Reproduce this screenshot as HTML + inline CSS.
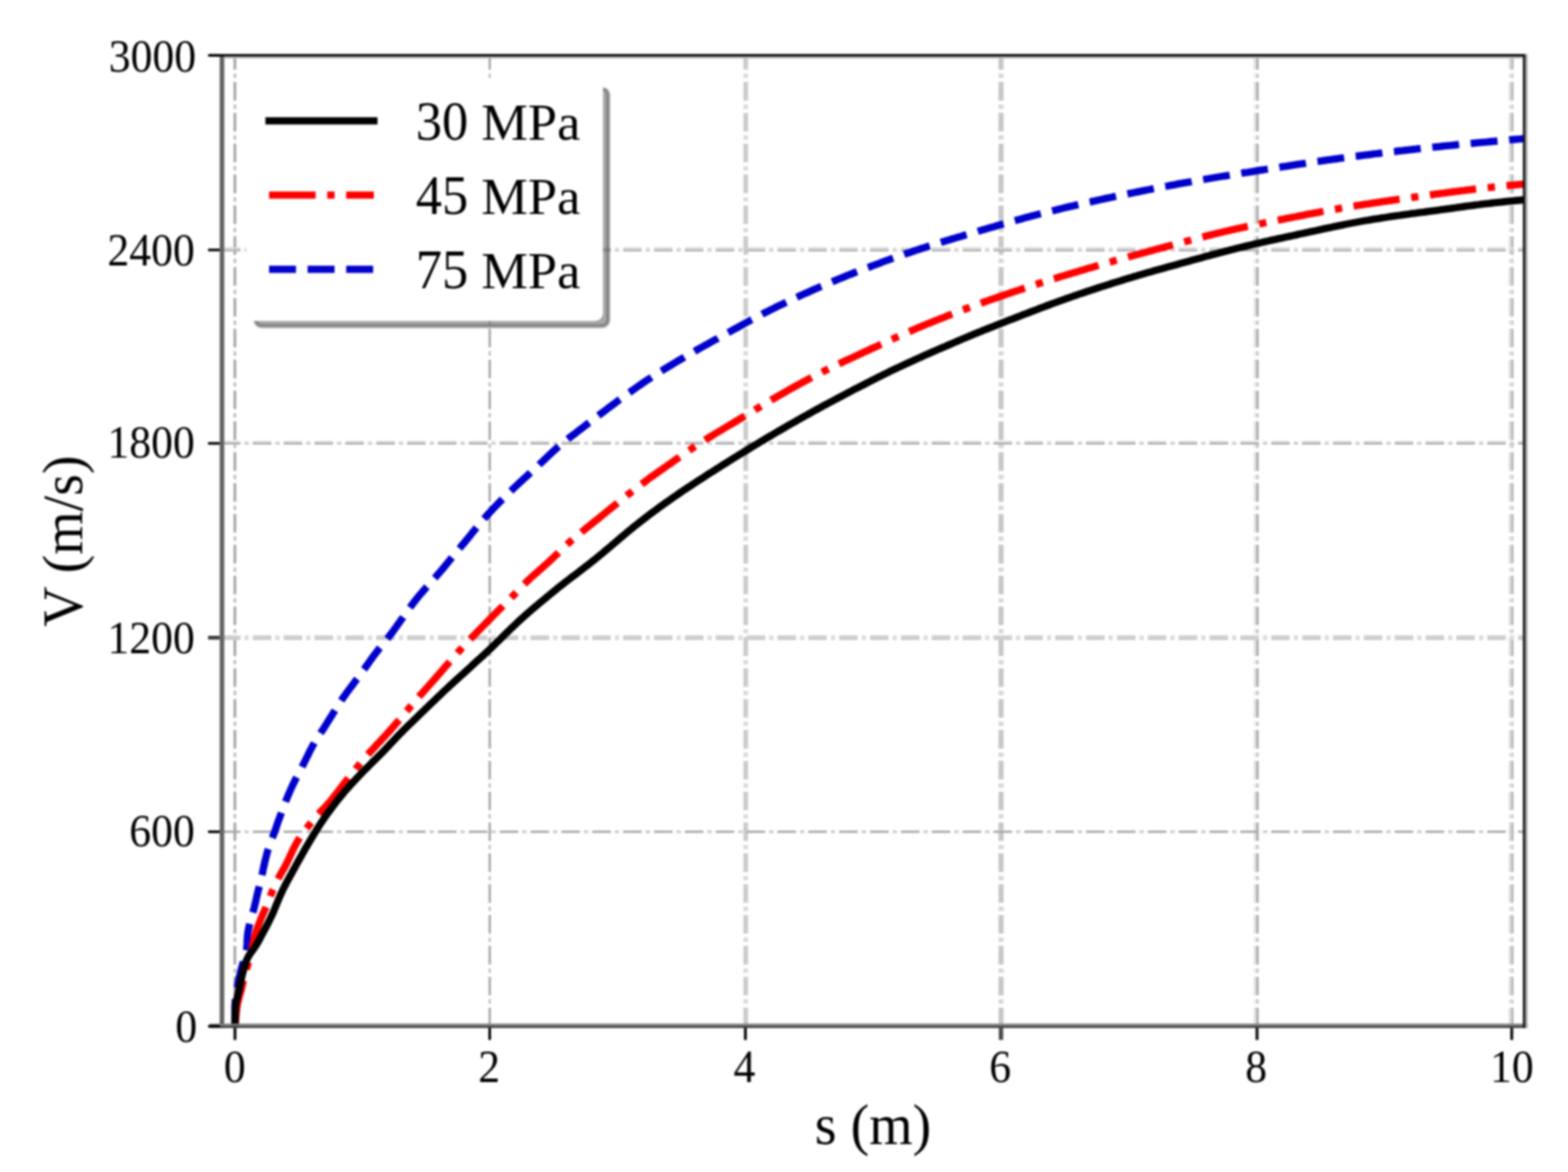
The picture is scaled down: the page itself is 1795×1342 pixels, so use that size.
<!DOCTYPE html>
<html><head><meta charset="utf-8"><title>V vs s</title>
<style>html,body{margin:0;padding:0;background:#fff;overflow:hidden;} svg{display:block;filter:blur(0.8px);}</style></head>
<body>
<svg xmlns="http://www.w3.org/2000/svg" width="1795" height="1342" viewBox="0 0 1795 1342">
<rect width="1795" height="1342" fill="#ffffff"/>
<defs><clipPath id="ax"><rect x="254.0" y="63.3" width="1491.0" height="1111.8"/></clipPath></defs>
<g fill="none" clip-path="url(#ax)"><line x1="268.90" y1="1175.1" x2="268.90" y2="63.3" stroke="#a2a2a2" stroke-width="3.00" stroke-dasharray="21.33,14.00"/><line x1="268.90" y1="1175.1" x2="268.90" y2="63.3" stroke="#bdbdbd" stroke-width="3.00" stroke-dasharray="0,25.83,5.00,4.50"/><line x1="560.65" y1="1175.1" x2="560.65" y2="63.3" stroke="#a8a8a8" stroke-width="2.70" stroke-dasharray="21.33,14.00"/><line x1="560.65" y1="1175.1" x2="560.65" y2="63.3" stroke="#c2c2c2" stroke-width="2.70" stroke-dasharray="0,25.83,5.00,4.50"/><line x1="853.70" y1="1175.1" x2="853.70" y2="63.3" stroke="#cbcbcb" stroke-width="5.40" stroke-dasharray="21.33,14.00"/><line x1="853.70" y1="1175.1" x2="853.70" y2="63.3" stroke="#dadada" stroke-width="5.40" stroke-dasharray="0,25.83,5.00,4.50"/><line x1="1145.95" y1="1175.1" x2="1145.95" y2="63.3" stroke="#c8c8c8" stroke-width="5.90" stroke-dasharray="21.33,14.00"/><line x1="1145.95" y1="1175.1" x2="1145.95" y2="63.3" stroke="#d8d8d8" stroke-width="5.90" stroke-dasharray="0,25.83,5.00,4.50"/><line x1="1436.50" y1="1175.1" x2="1436.50" y2="63.3" stroke="#e4e4e4" stroke-width="3.00" stroke-dasharray="21.33,14.00"/><line x1="1436.50" y1="1175.1" x2="1436.50" y2="63.3" stroke="#ececec" stroke-width="3.00" stroke-dasharray="0,25.83,5.00,4.50"/><line x1="1439.50" y1="1175.1" x2="1439.50" y2="63.3" stroke="#b0b0b0" stroke-width="3.00" stroke-dasharray="21.33,14.00"/><line x1="1439.50" y1="1175.1" x2="1439.50" y2="63.3" stroke="#c7c7c7" stroke-width="3.00" stroke-dasharray="0,25.83,5.00,4.50"/><line x1="1728.50" y1="1175.1" x2="1728.50" y2="63.3" stroke="#e0e0e0" stroke-width="3.00" stroke-dasharray="21.33,14.00"/><line x1="1728.50" y1="1175.1" x2="1728.50" y2="63.3" stroke="#e9e9e9" stroke-width="3.00" stroke-dasharray="0,25.83,5.00,4.50"/><line x1="1731.30" y1="1175.1" x2="1731.30" y2="63.3" stroke="#b4b4b4" stroke-width="2.60" stroke-dasharray="21.33,14.00"/><line x1="1731.30" y1="1175.1" x2="1731.30" y2="63.3" stroke="#cacaca" stroke-width="2.60" stroke-dasharray="0,25.83,5.00,4.50"/><line x1="254.0" y1="952.35" x2="1745.0" y2="952.35" stroke="#acacac" stroke-width="2.90" stroke-dasharray="21.33,14.00"/><line x1="254.0" y1="952.35" x2="1745.0" y2="952.35" stroke="#c4c4c4" stroke-width="2.90" stroke-dasharray="0,25.83,5.00,4.50"/><line x1="254.0" y1="730.20" x2="1745.0" y2="730.20" stroke="#cecece" stroke-width="5.40" stroke-dasharray="21.33,14.00"/><line x1="254.0" y1="730.20" x2="1745.0" y2="730.20" stroke="#dcdcdc" stroke-width="5.40" stroke-dasharray="0,25.83,5.00,4.50"/><line x1="254.0" y1="505.30" x2="1745.0" y2="505.30" stroke="#ececec" stroke-width="2.20" stroke-dasharray="21.33,14.00"/><line x1="254.0" y1="505.30" x2="1745.0" y2="505.30" stroke="#f1f1f1" stroke-width="2.20" stroke-dasharray="0,25.83,5.00,4.50"/><line x1="254.0" y1="507.75" x2="1745.0" y2="507.75" stroke="#aaaaaa" stroke-width="2.70" stroke-dasharray="21.33,14.00"/><line x1="254.0" y1="507.75" x2="1745.0" y2="507.75" stroke="#c3c3c3" stroke-width="2.70" stroke-dasharray="0,25.83,5.00,4.50"/><line x1="254.0" y1="284.20" x2="1745.0" y2="284.20" stroke="#dcdcdc" stroke-width="2.40" stroke-dasharray="21.33,14.00"/><line x1="254.0" y1="284.20" x2="1745.0" y2="284.20" stroke="#e6e6e6" stroke-width="2.40" stroke-dasharray="0,25.83,5.00,4.50"/><line x1="254.0" y1="286.75" x2="1745.0" y2="286.75" stroke="#b4b4b4" stroke-width="2.70" stroke-dasharray="21.33,14.00"/><line x1="254.0" y1="286.75" x2="1745.0" y2="286.75" stroke="#cacaca" stroke-width="2.70" stroke-dasharray="0,25.83,5.00,4.50"/></g>
<g clip-path="url(#ax)"><path d="M269.0,1175.1 L269.0,1172.1 L268.9,1169.1 L268.9,1166.1 L268.9,1163.1 L268.9,1160.1 L268.9,1157.1 L268.9,1154.1 L269.0,1151.1 L269.2,1148.1 L269.4,1145.1 L269.7,1142.2 L270.2,1139.2 L270.7,1136.2 L271.2,1133.3 L271.8,1130.3 L272.3,1127.4 L272.9,1124.4 L273.4,1121.5 L274.1,1118.6 L274.8,1115.6 L275.5,1112.7 L276.2,1109.8 L277.0,1106.9 L277.8,1104.0 L278.7,1101.2 L279.5,1098.3 L280.4,1095.4 L281.2,1092.5 L281.9,1089.6 L282.4,1086.7 L282.6,1083.7 L282.8,1080.7 L282.9,1077.7 L283.1,1074.8 L283.3,1071.8 L283.6,1068.8 L284.1,1065.8 L284.7,1062.9 L285.3,1060.0 L286.0,1057.1 L286.8,1054.2 L287.7,1051.3 L288.5,1048.4 L289.3,1045.5 L290.1,1042.7 L290.9,1039.7 L291.6,1036.8 L292.3,1033.9 L293.0,1031.0 L293.6,1028.1 L294.3,1025.1 L295.0,1022.2 L295.7,1019.3 L296.4,1016.4 L297.1,1013.5 L297.8,1010.6 L298.5,1007.6 L299.2,1004.7 L299.9,1001.8 L300.6,998.9 L301.2,996.0 L301.8,993.0 L302.5,990.1 L303.1,987.2 L303.8,984.2 L304.6,981.3 L305.3,978.4 L306.1,975.5 L306.9,972.7 L307.9,969.8 L308.9,967.0 L310.0,964.2 L311.0,961.4 L312.1,958.6 L313.2,955.8 L314.2,953.0 L315.2,950.2 L316.2,947.3 L317.1,944.5 L318.1,941.7 L319.1,938.8 L320.2,936.0 L321.2,933.2 L322.2,930.4 L323.2,927.6 L324.3,924.8 L325.4,922.0 L326.4,919.2 L327.5,916.4 L328.7,913.6 L329.8,910.8 L331.0,908.1 L332.2,905.3 L333.4,902.6 L334.7,899.8 L336.0,897.1 L337.3,894.4 L338.6,891.8 L340.0,889.1 L341.4,886.4 L342.8,883.8 L344.2,881.1 L345.5,878.5 L346.9,875.8 L348.3,873.1 L349.6,870.5 L350.9,867.8 L352.3,865.1 L353.6,862.4 L354.9,859.7 L356.3,857.1 L357.7,854.4 L359.2,851.9 L360.7,849.3 L362.3,846.7 L363.9,844.2 L365.5,841.7 L367.1,839.2 L368.8,836.7 L370.4,834.2 L372.0,831.7 L373.6,829.1 L375.2,826.6 L376.8,824.1 L378.4,821.5 L380.0,819.0 L381.5,816.4 L383.1,813.9 L384.7,811.3 L386.3,808.8 L387.9,806.3 L389.6,803.8 L391.2,801.3 L392.9,798.8 L394.6,796.4 L396.4,794.0 L398.1,791.5 L399.9,789.2 L401.7,786.8 L403.5,784.4 L405.3,782.0 L407.1,779.6 L408.9,777.3 L410.7,774.9 L412.4,772.5 L414.2,770.0 L415.9,767.6 L417.7,765.2 L419.4,762.7 L421.1,760.3 L422.8,757.9 L424.6,755.4 L426.3,753.0 L428.1,750.6 L429.9,748.2 L431.7,745.9 L433.5,743.5 L435.4,741.2 L437.3,738.9 L439.2,736.5 L441.0,734.2 L442.9,731.9 L444.7,729.6 L446.6,727.2 L448.4,724.9 L450.2,722.5 L451.9,720.1 L453.7,717.7 L455.4,715.2 L457.1,712.8 L458.8,710.3 L460.6,707.9 L462.3,705.4 L464.0,703.0 L465.7,700.5 L467.5,698.1 L469.3,695.7 L471.0,693.3 L472.9,690.9 L474.7,688.5 L476.6,686.2 L478.4,683.8 L480.3,681.5 L482.3,679.3 L484.2,677.0 L486.2,674.7 L488.2,672.5 L490.2,670.3 L492.2,668.0 L494.2,665.8 L496.2,663.6 L498.2,661.4 L500.1,659.1 L502.1,656.8 L504.0,654.6 L506.0,652.3 L507.9,650.0 L509.8,647.7 L511.7,645.4 L513.6,643.0 L515.5,640.7 L517.4,638.4 L519.3,636.1 L521.2,633.8 L523.1,631.5 L525.0,629.2 L526.9,626.9 L528.8,624.6 L530.8,622.3 L532.7,620.0 L534.6,617.7 L536.5,615.3 L538.4,613.0 L540.2,610.7 L542.1,608.4 L544.0,606.1 L545.9,603.7 L547.8,601.4 L549.8,599.1 L551.7,596.8 L553.6,594.6 L555.6,592.3 L557.6,590.1 L559.6,587.9 L561.6,585.7 L563.7,583.5 L565.7,581.3 L567.8,579.1 L569.9,577.0 L572.0,574.8 L574.1,572.7 L576.2,570.6 L578.3,568.4 L580.5,566.3 L582.6,564.2 L584.8,562.2 L587.0,560.1 L589.1,558.0 L591.3,556.0 L593.5,553.9 L595.7,551.9 L597.9,549.9 L600.1,547.8 L602.3,545.8 L604.5,543.8 L606.8,541.7 L609.0,539.7 L611.2,537.7 L613.4,535.6 L615.6,533.6 L617.7,531.5 L619.9,529.5 L622.1,527.4 L624.3,525.4 L626.4,523.3 L628.6,521.2 L630.8,519.2 L633.0,517.1 L635.2,515.1 L637.4,513.1 L639.7,511.2 L641.9,509.2 L644.2,507.3 L646.5,505.4 L648.9,503.6 L651.2,501.7 L653.6,499.9 L656.0,498.1 L658.4,496.3 L660.7,494.5 L663.1,492.6 L665.5,490.8 L667.9,489.0 L670.3,487.2 L672.6,485.3 L675.0,483.5 L677.4,481.7 L679.8,479.9 L682.2,478.0 L684.5,476.2 L686.9,474.4 L689.3,472.6 L691.7,470.8 L694.1,469.0 L696.5,467.2 L698.9,465.4 L701.3,463.6 L703.7,461.8 L706.1,460.0 L708.5,458.2 L711.0,456.4 L713.4,454.7 L715.8,452.9 L718.2,451.1 L720.6,449.4 L723.1,447.6 L725.5,445.9 L728.0,444.1 L730.4,442.4 L732.9,440.7 L735.3,439.0 L737.8,437.3 L740.3,435.6 L742.8,434.0 L745.3,432.4 L747.8,430.7 L750.4,429.1 L752.9,427.5 L755.4,425.9 L758.0,424.3 L760.5,422.7 L763.1,421.2 L765.6,419.6 L768.2,418.1 L770.8,416.5 L773.3,415.0 L775.9,413.4 L778.5,411.9 L781.1,410.4 L783.6,408.9 L786.2,407.4 L788.8,405.9 L791.4,404.4 L794.0,402.9 L796.6,401.4 L799.2,399.9 L801.8,398.5 L804.4,397.0 L807.1,395.5 L809.7,394.1 L812.3,392.6 L814.9,391.2 L817.5,389.7 L820.1,388.3 L822.7,386.8 L825.3,385.4 L828.0,383.9 L830.6,382.5 L833.2,381.0 L835.8,379.6 L838.4,378.2 L841.0,376.7 L843.7,375.3 L846.3,373.8 L848.9,372.4 L851.5,371.0 L854.1,369.5 L856.8,368.1 L859.4,366.7 L862.0,365.3 L864.7,363.9 L867.3,362.5 L870.0,361.1 L872.6,359.7 L875.3,358.3 L877.9,357.0 L880.6,355.6 L883.3,354.3 L885.9,352.9 L888.6,351.6 L891.3,350.3 L894.0,349.0 L896.7,347.7 L899.4,346.4 L902.1,345.1 L904.8,343.8 L907.5,342.5 L910.2,341.3 L913.0,340.0 L915.7,338.8 L918.4,337.5 L921.1,336.3 L923.9,335.1 L926.6,333.9 L929.3,332.6 L932.1,331.4 L934.8,330.2 L937.6,329.0 L940.3,327.9 L943.1,326.7 L945.8,325.5 L948.6,324.3 L951.3,323.2 L954.1,322.0 L956.9,320.9 L959.6,319.7 L962.4,318.6 L965.2,317.5 L967.9,316.4 L970.7,315.2 L973.5,314.1 L976.3,313.0 L979.0,311.9 L981.8,310.8 L984.6,309.8 L987.4,308.7 L990.2,307.6 L993.0,306.5 L995.8,305.5 L998.6,304.4 L1001.4,303.4 L1004.2,302.3 L1007.0,301.3 L1009.8,300.2 L1012.6,299.2 L1015.4,298.2 L1018.2,297.2 L1021.0,296.2 L1023.8,295.2 L1026.6,294.2 L1029.5,293.2 L1032.3,292.2 L1035.1,291.2 L1038.0,290.2 L1040.8,289.3 L1043.6,288.3 L1046.5,287.3 L1049.3,286.4 L1052.1,285.5 L1055.0,284.5 L1057.8,283.6 L1060.7,282.7 L1063.5,281.8 L1066.4,280.9 L1069.3,280.0 L1072.1,279.1 L1075.0,278.2 L1077.8,277.3 L1080.7,276.4 L1083.6,275.5 L1086.4,274.7 L1089.3,273.8 L1092.2,272.9 L1095.1,272.1 L1097.9,271.2 L1100.8,270.4 L1103.7,269.5 L1106.6,268.7 L1109.4,267.8 L1112.3,267.0 L1115.2,266.1 L1118.1,265.3 L1120.9,264.4 L1123.8,263.6 L1126.7,262.7 L1129.6,261.9 L1132.4,261.0 L1135.3,260.2 L1138.2,259.4 L1141.1,258.5 L1144.0,257.7 L1146.8,256.9 L1149.7,256.1 L1152.6,255.2 L1155.5,254.4 L1158.4,253.6 L1161.3,252.8 L1164.1,252.0 L1167.0,251.2 L1169.9,250.4 L1172.8,249.6 L1175.7,248.8 L1178.6,248.1 L1181.5,247.3 L1184.4,246.5 L1187.3,245.8 L1190.2,245.0 L1193.1,244.3 L1196.0,243.6 L1198.9,242.8 L1201.8,242.1 L1204.7,241.4 L1207.6,240.7 L1210.6,239.9 L1213.5,239.2 L1216.4,238.5 L1219.3,237.8 L1222.2,237.1 L1225.1,236.4 L1228.1,235.8 L1231.0,235.1 L1233.9,234.4 L1236.8,233.7 L1239.7,233.1 L1242.7,232.4 L1245.6,231.7 L1248.5,231.1 L1251.5,230.4 L1254.4,229.8 L1257.3,229.1 L1260.2,228.5 L1263.2,227.8 L1266.1,227.2 L1269.0,226.6 L1272.0,226.0 L1274.9,225.3 L1277.8,224.7 L1280.8,224.1 L1283.7,223.5 L1286.6,222.9 L1289.6,222.3 L1292.5,221.7 L1295.5,221.1 L1298.4,220.5 L1301.3,219.9 L1304.3,219.3 L1307.2,218.7 L1310.2,218.1 L1313.1,217.5 L1316.0,217.0 L1319.0,216.4 L1321.9,215.8 L1324.9,215.2 L1327.8,214.7 L1330.8,214.1 L1333.7,213.5 L1336.7,213.0 L1339.6,212.4 L1342.6,211.8 L1345.5,211.3 L1348.4,210.7 L1351.4,210.2 L1354.3,209.7 L1357.3,209.1 L1360.2,208.6 L1363.2,208.1 L1366.2,207.5 L1369.1,207.0 L1372.1,206.5 L1375.0,206.0 L1378.0,205.5 L1380.9,205.0 L1383.9,204.5 L1386.8,204.0 L1389.8,203.5 L1392.7,203.0 L1395.7,202.5 L1398.7,202.0 L1401.6,201.5 L1404.6,201.1 L1407.5,200.6 L1410.5,200.1 L1413.5,199.6 L1416.4,199.2 L1419.4,198.7 L1422.3,198.2 L1425.3,197.7 L1428.2,197.3 L1431.2,196.8 L1434.2,196.3 L1437.1,195.9 L1440.1,195.4 L1443.0,194.9 L1446.0,194.5 L1448.9,194.0 L1451.9,193.5 L1454.8,193.1 L1457.8,192.6 L1460.8,192.1 L1463.7,191.7 L1466.7,191.2 L1469.6,190.7 L1472.6,190.3 L1475.5,189.8 L1478.5,189.3 L1481.4,188.9 L1484.4,188.4 L1487.4,188.0 L1490.3,187.5 L1493.3,187.1 L1496.2,186.6 L1499.2,186.2 L1502.2,185.8 L1505.1,185.3 L1508.1,184.9 L1511.1,184.5 L1514.0,184.0 L1517.0,183.6 L1520.0,183.2 L1522.9,182.8 L1525.9,182.4 L1528.9,182.0 L1531.8,181.6 L1534.8,181.2 L1537.8,180.8 L1540.7,180.4 L1543.7,180.0 L1546.7,179.6 L1549.7,179.2 L1552.6,178.9 L1555.6,178.5 L1558.6,178.1 L1561.6,177.7 L1564.5,177.3 L1567.5,177.0 L1570.5,176.6 L1573.5,176.2 L1576.4,175.9 L1579.4,175.5 L1582.4,175.2 L1585.4,174.8 L1588.3,174.4 L1591.3,174.1 L1594.3,173.7 L1597.3,173.4 L1600.2,173.0 L1603.2,172.7 L1606.2,172.4 L1609.2,172.0 L1612.2,171.7 L1615.1,171.3 L1618.1,171.0 L1621.1,170.7 L1624.1,170.3 L1627.0,170.0 L1630.0,169.7 L1633.0,169.4 L1636.0,169.0 L1639.0,168.7 L1641.9,168.4 L1644.9,168.1 L1647.9,167.8 L1650.9,167.5 L1653.8,167.2 L1656.8,166.9 L1659.8,166.6 L1662.8,166.3 L1665.8,166.0 L1668.7,165.7 L1671.7,165.4 L1674.7,165.1 L1677.7,164.8 L1680.6,164.5 L1683.6,164.2 L1686.6,164.0 L1689.6,163.7 L1692.6,163.4 L1695.5,163.1 L1698.5,162.8 L1701.5,162.6 L1704.5,162.3 L1707.4,162.0 L1710.4,161.8 L1713.4,161.5 L1716.3,161.2 L1719.3,161.0 L1722.3,160.7 L1725.2,160.5 L1728.2,160.2 L1731.2,160.0 L1734.1,159.7 L1737.1,159.4 L1740.1,159.2 L1743.0,158.9 L1746.0,158.7 L1746.0,158.7" stroke="#0000cc" stroke-width="8.33" fill="none" stroke-linejoin="round" stroke-dasharray="30.83,13.33" stroke-linecap="butt"/><path d="M269.0,1175.1 L269.3,1172.1 L269.6,1169.1 L269.9,1166.1 L270.1,1163.2 L270.4,1160.2 L270.7,1157.2 L271.1,1154.2 L271.5,1151.3 L272.1,1148.3 L272.8,1145.4 L273.5,1142.5 L274.3,1139.6 L275.2,1136.7 L276.0,1133.8 L276.7,1130.9 L277.4,1128.0 L278.0,1125.1 L278.6,1122.2 L279.4,1119.2 L280.1,1116.3 L280.9,1113.5 L281.8,1110.6 L282.7,1107.7 L283.6,1104.9 L284.5,1102.0 L285.3,1099.1 L286.1,1096.2 L286.8,1093.3 L287.5,1090.4 L288.2,1087.5 L288.8,1084.5 L289.5,1081.6 L290.2,1078.7 L290.9,1075.8 L291.5,1072.9 L292.3,1070.0 L293.1,1067.1 L294.0,1064.2 L295.1,1061.4 L296.2,1058.6 L297.3,1055.8 L298.3,1053.1 L299.4,1050.3 L300.6,1047.5 L301.8,1044.8 L303.0,1042.1 L304.2,1039.4 L305.4,1036.6 L306.5,1033.9 L307.5,1031.1 L308.6,1028.3 L309.7,1025.5 L310.8,1022.7 L311.9,1019.9 L313.2,1017.2 L314.4,1014.5 L315.7,1011.7 L317.0,1009.0 L318.3,1006.4 L319.7,1003.7 L321.1,1001.1 L322.6,998.5 L324.1,995.9 L325.6,993.3 L327.0,990.7 L328.4,988.0 L329.7,985.3 L331.0,982.6 L332.2,979.9 L333.5,977.2 L334.7,974.5 L336.0,971.8 L337.4,969.1 L338.8,966.5 L340.2,963.9 L341.8,961.3 L343.4,958.8 L345.1,956.4 L346.9,953.9 L348.6,951.6 L350.5,949.2 L352.3,946.8 L354.1,944.5 L356.0,942.1 L357.9,939.8 L359.8,937.5 L361.8,935.2 L363.7,933.0 L365.7,930.8 L367.8,928.7 L369.8,926.5 L371.9,924.4 L373.9,922.2 L375.8,920.0 L377.8,917.8 L379.7,915.5 L381.5,913.2 L383.4,910.9 L385.2,908.5 L387.0,906.2 L388.8,903.8 L390.6,901.4 L392.4,899.1 L394.3,896.7 L396.1,894.3 L398.0,892.0 L399.8,889.6 L401.7,887.3 L403.6,885.0 L405.5,882.7 L407.3,880.3 L409.2,878.0 L411.1,875.7 L413.0,873.4 L414.9,871.1 L416.9,868.8 L418.8,866.6 L420.8,864.4 L422.8,862.1 L424.8,859.9 L426.8,857.8 L428.8,855.6 L430.8,853.4 L432.9,851.2 L434.9,849.1 L436.9,846.9 L439.0,844.7 L441.0,842.5 L443.0,840.3 L445.0,838.1 L447.0,835.9 L449.0,833.6 L450.9,831.4 L452.9,829.1 L454.9,826.8 L456.8,824.5 L458.8,822.3 L460.7,820.0 L462.6,817.7 L464.6,815.4 L466.5,813.1 L468.4,810.8 L470.3,808.5 L472.3,806.2 L474.2,803.9 L476.2,801.7 L478.1,799.4 L480.1,797.1 L482.1,794.9 L484.1,792.7 L486.1,790.4 L488.1,788.2 L490.1,786.0 L492.1,783.7 L494.1,781.5 L496.1,779.3 L498.1,777.0 L500.0,774.8 L502.0,772.5 L504.0,770.2 L505.9,768.0 L507.9,765.7 L509.8,763.4 L511.8,761.2 L513.8,758.9 L515.7,756.6 L517.7,754.4 L519.7,752.1 L521.7,749.9 L523.7,747.6 L525.7,745.4 L527.7,743.2 L529.7,741.0 L531.8,738.8 L533.8,736.6 L535.9,734.4 L538.0,732.3 L540.0,730.1 L542.1,728.0 L544.2,725.8 L546.3,723.6 L548.4,721.5 L550.5,719.4 L552.6,717.2 L554.7,715.1 L556.8,712.9 L558.9,710.8 L561.0,708.7 L563.1,706.5 L565.2,704.4 L567.3,702.3 L569.4,700.1 L571.6,698.0 L573.7,695.9 L575.8,693.8 L577.9,691.7 L580.0,689.6 L582.2,687.5 L584.3,685.3 L586.3,683.2 L588.4,681.1 L590.5,678.9 L592.5,676.8 L594.6,674.6 L596.6,672.5 L598.7,670.3 L600.8,668.2 L602.9,666.1 L605.1,664.1 L607.2,662.0 L609.4,660.0 L611.7,658.0 L613.9,656.1 L616.1,654.1 L618.4,652.1 L620.7,650.2 L622.9,648.2 L625.1,646.2 L627.3,644.3 L629.5,642.2 L631.7,640.2 L633.9,638.1 L636.0,636.1 L638.2,634.0 L640.3,631.9 L642.4,629.8 L644.6,627.7 L646.7,625.7 L648.9,623.6 L651.1,621.6 L653.4,619.6 L655.6,617.7 L657.9,615.7 L660.2,613.8 L662.5,611.9 L664.8,610.0 L667.1,608.1 L669.5,606.2 L671.8,604.3 L674.1,602.5 L676.5,600.6 L678.8,598.7 L681.1,596.8 L683.5,594.9 L685.8,593.1 L688.1,591.2 L690.5,589.3 L692.8,587.4 L695.1,585.5 L697.5,583.6 L699.8,581.7 L702.1,579.8 L704.5,578.0 L706.8,576.1 L709.1,574.2 L711.5,572.3 L713.8,570.5 L716.2,568.6 L718.5,566.7 L720.9,564.9 L723.2,563.0 L725.6,561.1 L727.9,559.3 L730.3,557.5 L732.7,555.7 L735.1,553.9 L737.5,552.1 L739.9,550.3 L742.3,548.5 L744.7,546.7 L747.1,545.0 L749.6,543.3 L752.0,541.5 L754.5,539.8 L756.9,538.1 L759.4,536.3 L761.8,534.6 L764.3,532.9 L766.8,531.2 L769.2,529.5 L771.7,527.7 L774.1,526.0 L776.6,524.3 L779.0,522.6 L781.5,520.9 L783.9,519.2 L786.4,517.5 L788.9,515.8 L791.3,514.1 L793.8,512.4 L796.3,510.8 L798.8,509.1 L801.3,507.5 L803.8,505.9 L806.3,504.3 L808.8,502.7 L811.4,501.1 L813.9,499.6 L816.4,498.1 L818.9,496.5 L821.5,495.0 L824.0,493.5 L826.5,492.0 L829.0,490.5 L831.5,489.0 L834.0,487.5 L836.5,486.0 L839.0,484.6 L841.4,483.1 L843.9,481.6 L846.4,480.1 L848.8,478.6 L851.3,477.2 L853.7,475.7 L856.1,474.2 L858.6,472.7 L861.0,471.3 L863.4,469.8 L865.8,468.3 L868.3,466.9 L870.7,465.4 L873.1,463.9 L875.6,462.5 L878.0,461.0 L880.4,459.6 L882.9,458.1 L885.3,456.7 L887.8,455.3 L890.2,453.8 L892.7,452.4 L895.2,451.0 L897.6,449.6 L900.1,448.2 L902.6,446.7 L905.1,445.3 L907.6,443.9 L910.1,442.5 L912.6,441.2 L915.1,439.8 L917.6,438.4 L920.2,437.0 L922.7,435.7 L925.2,434.3 L927.8,433.0 L930.3,431.6 L932.9,430.3 L935.4,429.0 L938.0,427.7 L940.5,426.4 L943.1,425.1 L945.6,423.8 L948.2,422.6 L950.8,421.3 L953.4,420.0 L955.9,418.8 L958.5,417.5 L961.1,416.3 L963.7,415.1 L966.3,413.8 L968.9,412.6 L971.6,411.4 L974.2,410.2 L976.8,409.0 L979.5,407.7 L982.1,406.5 L984.7,405.3 L987.4,404.1 L990.0,402.8 L992.7,401.6 L995.4,400.4 L998.0,399.1 L1000.7,397.9 L1003.4,396.7 L1006.1,395.4 L1008.7,394.2 L1011.4,393.0 L1014.1,391.7 L1016.8,390.5 L1019.5,389.2 L1022.2,388.0 L1024.9,386.8 L1027.6,385.6 L1030.3,384.4 L1033.0,383.1 L1035.7,381.9 L1038.4,380.7 L1041.1,379.6 L1043.9,378.4 L1046.6,377.2 L1049.3,376.0 L1052.0,374.9 L1054.8,373.8 L1057.5,372.6 L1060.2,371.5 L1062.9,370.4 L1065.7,369.3 L1068.4,368.2 L1071.1,367.1 L1073.8,366.0 L1076.5,364.9 L1079.2,363.8 L1081.9,362.8 L1084.6,361.7 L1087.3,360.6 L1090.0,359.6 L1092.7,358.6 L1095.4,357.5 L1098.0,356.5 L1100.7,355.5 L1103.3,354.5 L1105.9,353.5 L1108.6,352.5 L1111.2,351.5 L1113.8,350.6 L1116.4,349.6 L1119.0,348.6 L1121.6,347.7 L1124.2,346.7 L1126.8,345.8 L1129.4,344.9 L1132.0,343.9 L1134.6,343.0 L1137.2,342.1 L1139.9,341.2 L1142.5,340.3 L1145.1,339.4 L1147.8,338.5 L1150.4,337.6 L1153.1,336.6 L1155.8,335.7 L1158.4,334.8 L1161.1,333.9 L1163.8,333.0 L1166.6,332.1 L1169.3,331.2 L1172.0,330.3 L1174.8,329.4 L1177.6,328.4 L1180.3,327.5 L1183.1,326.6 L1185.9,325.7 L1188.7,324.8 L1191.5,323.9 L1194.3,323.0 L1197.1,322.1 L1199.9,321.2 L1202.7,320.3 L1205.6,319.4 L1208.4,318.6 L1211.2,317.7 L1214.0,316.8 L1216.9,316.0 L1219.7,315.1 L1222.5,314.2 L1225.3,313.4 L1228.1,312.6 L1231.0,311.7 L1233.8,310.9 L1236.6,310.0 L1239.4,309.2 L1242.2,308.4 L1245.0,307.5 L1247.9,306.7 L1250.7,305.9 L1253.5,305.1 L1256.3,304.3 L1259.1,303.4 L1261.9,302.6 L1264.7,301.8 L1267.5,301.0 L1270.4,300.2 L1273.2,299.4 L1276.0,298.6 L1278.8,297.8 L1281.6,297.0 L1284.5,296.2 L1287.3,295.4 L1290.1,294.6 L1293.0,293.8 L1295.8,293.1 L1298.7,292.3 L1301.5,291.5 L1304.4,290.7 L1307.2,290.0 L1310.1,289.2 L1313.0,288.4 L1315.8,287.6 L1318.7,286.9 L1321.5,286.1 L1324.4,285.3 L1327.2,284.6 L1330.1,283.8 L1332.9,283.1 L1335.8,282.3 L1338.6,281.5 L1341.4,280.8 L1344.3,280.0 L1347.1,279.2 L1349.9,278.5 L1352.7,277.7 L1355.5,277.0 L1358.3,276.2 L1361.1,275.5 L1363.9,274.7 L1366.7,274.0 L1369.5,273.2 L1372.3,272.5 L1375.1,271.8 L1377.9,271.1 L1380.7,270.3 L1383.5,269.6 L1386.3,268.9 L1389.1,268.2 L1391.9,267.5 L1394.7,266.8 L1397.5,266.2 L1400.3,265.5 L1403.2,264.8 L1406.0,264.2 L1408.8,263.5 L1411.7,262.9 L1414.5,262.2 L1417.4,261.6 L1420.3,261.0 L1423.2,260.4 L1426.0,259.7 L1428.9,259.1 L1431.8,258.5 L1434.7,257.9 L1437.6,257.3 L1440.5,256.7 L1443.4,256.1 L1446.3,255.5 L1449.2,254.9 L1452.2,254.3 L1455.1,253.7 L1458.0,253.1 L1460.9,252.6 L1463.8,252.0 L1466.7,251.4 L1469.6,250.8 L1472.5,250.2 L1475.4,249.7 L1478.3,249.1 L1481.2,248.5 L1484.1,248.0 L1486.9,247.4 L1489.8,246.8 L1492.6,246.3 L1495.5,245.7 L1498.3,245.2 L1501.1,244.7 L1503.9,244.1 L1506.7,243.6 L1509.5,243.1 L1512.2,242.5 L1515.0,242.0 L1517.7,241.5 L1520.5,241.0 L1523.2,240.5 L1525.9,240.0 L1528.6,239.6 L1531.3,239.1 L1534.1,238.6 L1536.8,238.1 L1539.5,237.7 L1542.2,237.2 L1544.9,236.8 L1547.6,236.3 L1550.4,235.9 L1553.1,235.4 L1555.9,235.0 L1558.6,234.6 L1561.4,234.1 L1564.2,233.7 L1567.0,233.3 L1569.8,232.8 L1572.6,232.4 L1575.5,232.0 L1578.3,231.6 L1581.2,231.1 L1584.0,230.7 L1586.9,230.3 L1589.7,229.9 L1592.6,229.5 L1595.5,229.1 L1598.4,228.7 L1601.2,228.2 L1604.1,227.8 L1607.0,227.4 L1609.9,227.0 L1612.8,226.6 L1615.6,226.2 L1618.5,225.8 L1621.4,225.4 L1624.2,225.0 L1627.1,224.6 L1630.0,224.2 L1632.8,223.8 L1635.7,223.4 L1638.6,223.0 L1641.4,222.6 L1644.3,222.2 L1647.1,221.8 L1650.0,221.4 L1652.9,221.1 L1655.8,220.7 L1658.6,220.3 L1661.5,219.9 L1664.4,219.5 L1667.3,219.2 L1670.2,218.8 L1673.1,218.4 L1676.0,218.1 L1678.9,217.7 L1681.8,217.3 L1684.7,217.0 L1687.6,216.6 L1690.6,216.3 L1693.5,216.0 L1696.5,215.6 L1699.4,215.3 L1702.4,215.0 L1705.3,214.7 L1708.3,214.4 L1711.2,214.0 L1714.2,213.7 L1717.2,213.4 L1720.1,213.1 L1723.1,212.8 L1726.1,212.5 L1729.1,212.2 L1732.0,212.0 L1735.0,211.7 L1738.0,211.4 L1741.0,211.1 L1743.9,210.8 L1745.9,210.6" stroke="#ff0000" stroke-width="8.33" fill="none" stroke-linejoin="round" stroke-dasharray="53.33,13.33,8.33,13.33" stroke-linecap="butt"/><path d="M269.0,1175.1 L269.0,1172.1 L269.1,1169.1 L269.1,1166.1 L269.2,1163.1 L269.2,1160.1 L269.3,1157.1 L269.4,1154.1 L269.7,1151.2 L270.2,1148.2 L270.8,1145.3 L271.5,1142.3 L272.2,1139.4 L272.9,1136.5 L273.6,1133.6 L274.2,1130.7 L274.8,1127.7 L275.4,1124.8 L276.0,1121.9 L276.7,1118.9 L277.4,1116.0 L278.1,1113.1 L278.9,1110.2 L279.7,1107.3 L280.6,1104.5 L281.5,1101.6 L282.6,1098.8 L283.9,1096.1 L285.3,1093.6 L286.9,1091.2 L288.6,1088.9 L290.3,1086.7 L291.9,1084.3 L293.5,1081.9 L295.0,1079.3 L296.5,1076.7 L297.9,1074.1 L299.3,1071.4 L300.7,1068.8 L302.1,1066.1 L303.5,1063.5 L304.9,1060.8 L306.3,1058.2 L307.6,1055.6 L308.9,1053.0 L310.1,1050.5 L311.3,1047.9 L312.5,1045.4 L313.6,1042.8 L314.6,1040.3 L315.7,1037.7 L316.8,1035.0 L317.9,1032.3 L319.0,1029.7 L320.1,1027.0 L321.3,1024.3 L322.6,1021.6 L323.8,1018.9 L325.2,1016.2 L326.5,1013.6 L327.9,1010.9 L329.3,1008.3 L330.7,1005.7 L332.1,1003.1 L333.6,1000.5 L335.0,997.8 L336.5,995.2 L337.9,992.6 L339.3,990.0 L340.8,987.4 L342.2,984.8 L343.7,982.2 L345.2,979.6 L346.6,976.9 L348.1,974.3 L349.6,971.7 L351.1,969.1 L352.6,966.6 L354.1,964.0 L355.7,961.4 L357.2,958.8 L358.7,956.3 L360.3,953.7 L361.9,951.1 L363.5,948.6 L365.1,946.1 L366.7,943.6 L368.3,941.1 L370.0,938.6 L371.7,936.2 L373.4,933.7 L375.1,931.3 L376.9,928.9 L378.7,926.5 L380.4,924.1 L382.3,921.7 L384.1,919.3 L385.9,917.0 L387.8,914.6 L389.7,912.3 L391.6,910.0 L393.5,907.7 L395.4,905.4 L397.4,903.2 L399.4,900.9 L401.4,898.7 L403.4,896.5 L405.5,894.3 L407.5,892.1 L409.6,889.9 L411.6,887.7 L413.7,885.6 L415.8,883.4 L417.9,881.3 L420.0,879.2 L422.1,877.1 L424.3,874.9 L426.4,872.8 L428.5,870.7 L430.7,868.6 L432.8,866.5 L434.9,864.4 L437.0,862.3 L439.1,860.1 L441.2,858.0 L443.2,855.8 L445.3,853.6 L447.3,851.4 L449.4,849.3 L451.4,847.1 L453.5,844.9 L455.5,842.7 L457.6,840.6 L459.7,838.5 L461.8,836.3 L464.0,834.2 L466.1,832.1 L468.3,830.0 L470.4,828.0 L472.6,825.9 L474.7,823.8 L476.9,821.7 L479.0,819.6 L481.2,817.5 L483.3,815.4 L485.5,813.4 L487.6,811.3 L489.8,809.2 L492.0,807.1 L494.1,805.0 L496.3,802.9 L498.4,800.9 L500.6,798.8 L502.8,796.7 L504.9,794.7 L507.1,792.6 L509.3,790.5 L511.5,788.5 L513.7,786.4 L515.9,784.4 L518.1,782.4 L520.3,780.3 L522.5,778.3 L524.7,776.3 L526.9,774.3 L529.2,772.3 L531.4,770.3 L533.6,768.3 L535.8,766.3 L538.1,764.3 L540.3,762.2 L542.5,760.2 L544.7,758.2 L546.9,756.2 L549.2,754.2 L551.4,752.1 L553.6,750.1 L555.8,748.1 L558.0,746.0 L560.1,744.0 L562.3,741.9 L564.5,739.8 L566.6,737.7 L568.8,735.6 L570.9,733.5 L573.1,731.4 L575.2,729.3 L577.3,727.2 L579.5,725.1 L581.6,723.0 L583.8,720.9 L585.9,718.8 L588.1,716.8 L590.3,714.7 L592.4,712.6 L594.6,710.6 L596.8,708.6 L599.1,706.6 L601.3,704.6 L603.5,702.6 L605.8,700.6 L608.1,698.7 L610.4,696.7 L612.7,694.8 L615.0,692.9 L617.3,690.9 L619.6,689.0 L621.9,687.1 L624.2,685.2 L626.5,683.3 L628.8,681.4 L631.1,679.5 L633.5,677.6 L635.8,675.7 L638.1,673.8 L640.4,671.9 L642.8,670.1 L645.1,668.2 L647.5,666.3 L649.9,664.5 L652.2,662.7 L654.6,660.9 L657.0,659.1 L659.4,657.3 L661.8,655.5 L664.2,653.7 L666.6,651.8 L668.9,650.0 L671.3,648.2 L673.7,646.4 L676.0,644.5 L678.3,642.6 L680.7,640.8 L683.0,638.9 L685.3,637.0 L687.6,635.1 L690.0,633.2 L692.3,631.2 L694.6,629.3 L696.9,627.4 L699.2,625.5 L701.4,623.5 L703.7,621.6 L706.0,619.6 L708.3,617.7 L710.6,615.7 L712.9,613.8 L715.2,611.9 L717.5,609.9 L719.8,608.0 L722.1,606.1 L724.4,604.2 L726.7,602.3 L729.1,600.5 L731.4,598.6 L733.8,596.8 L736.2,594.9 L738.5,593.1 L740.9,591.3 L743.3,589.4 L745.7,587.6 L748.1,585.8 L750.5,584.1 L752.9,582.3 L755.3,580.5 L757.8,578.8 L760.2,577.0 L762.7,575.3 L765.1,573.6 L767.6,571.8 L770.0,570.1 L772.5,568.4 L775.0,566.7 L777.4,565.0 L779.9,563.3 L782.4,561.6 L784.9,560.0 L787.4,558.3 L789.9,556.7 L792.4,555.0 L794.8,553.4 L797.4,551.7 L799.9,550.1 L802.4,548.5 L804.9,546.9 L807.4,545.2 L809.9,543.6 L812.3,542.0 L814.8,540.5 L817.3,538.9 L819.8,537.3 L822.3,535.7 L824.7,534.2 L827.2,532.6 L829.6,531.1 L832.1,529.6 L834.5,528.0 L836.9,526.5 L839.3,525.0 L841.7,523.5 L844.2,522.0 L846.6,520.5 L849.0,519.0 L851.4,517.6 L853.8,516.1 L856.2,514.6 L858.6,513.1 L861.0,511.7 L863.4,510.2 L865.9,508.7 L868.3,507.3 L870.7,505.8 L873.2,504.3 L875.6,502.9 L878.1,501.4 L880.6,499.9 L883.1,498.5 L885.6,497.0 L888.1,495.5 L890.6,494.0 L893.1,492.6 L895.6,491.1 L898.2,489.6 L900.7,488.2 L903.3,486.7 L905.8,485.2 L908.4,483.8 L911.0,482.3 L913.5,480.8 L916.1,479.4 L918.7,477.9 L921.3,476.5 L923.9,475.0 L926.5,473.6 L929.1,472.1 L931.7,470.7 L934.3,469.2 L937.0,467.8 L939.6,466.4 L942.2,464.9 L944.8,463.5 L947.5,462.1 L950.1,460.7 L952.7,459.3 L955.4,457.9 L958.0,456.5 L960.6,455.1 L963.3,453.7 L965.9,452.3 L968.6,450.9 L971.2,449.5 L973.9,448.1 L976.5,446.7 L979.2,445.3 L981.9,444.0 L984.5,442.6 L987.2,441.2 L989.8,439.9 L992.5,438.5 L995.2,437.1 L997.8,435.8 L1000.5,434.4 L1003.2,433.1 L1005.8,431.8 L1008.5,430.4 L1011.2,429.1 L1013.9,427.8 L1016.5,426.4 L1019.2,425.1 L1021.9,423.8 L1024.6,422.5 L1027.3,421.2 L1030.0,420.0 L1032.7,418.7 L1035.4,417.4 L1038.1,416.2 L1040.9,414.9 L1043.6,413.7 L1046.3,412.4 L1049.0,411.2 L1051.7,410.0 L1054.5,408.8 L1057.2,407.5 L1059.9,406.3 L1062.7,405.1 L1065.4,403.9 L1068.2,402.7 L1070.9,401.5 L1073.6,400.3 L1076.4,399.1 L1079.1,397.9 L1081.9,396.8 L1084.6,395.6 L1087.4,394.4 L1090.1,393.2 L1092.8,392.0 L1095.6,390.8 L1098.3,389.7 L1101.1,388.5 L1103.8,387.3 L1106.6,386.2 L1109.3,385.0 L1112.1,383.9 L1114.9,382.7 L1117.6,381.6 L1120.4,380.4 L1123.2,379.3 L1125.9,378.2 L1128.7,377.1 L1131.5,376.0 L1134.3,374.9 L1137.1,373.8 L1139.8,372.7 L1142.6,371.6 L1145.4,370.5 L1148.2,369.4 L1151.0,368.3 L1153.8,367.2 L1156.6,366.1 L1159.4,365.1 L1162.2,364.0 L1165.0,362.9 L1167.7,361.8 L1170.5,360.7 L1173.3,359.6 L1176.1,358.6 L1178.9,357.5 L1181.7,356.4 L1184.5,355.3 L1187.3,354.3 L1190.1,353.2 L1192.9,352.1 L1195.7,351.1 L1198.5,350.0 L1201.3,349.0 L1204.1,347.9 L1207.0,346.9 L1209.8,345.9 L1212.6,344.8 L1215.4,343.8 L1218.2,342.8 L1221.1,341.8 L1223.9,340.8 L1226.7,339.8 L1229.5,338.8 L1232.4,337.9 L1235.2,336.9 L1238.0,335.9 L1240.9,335.0 L1243.7,334.0 L1246.6,333.1 L1249.4,332.1 L1252.3,331.2 L1255.1,330.3 L1258.0,329.3 L1260.8,328.4 L1263.7,327.5 L1266.5,326.6 L1269.4,325.7 L1272.2,324.8 L1275.1,323.8 L1278.0,323.0 L1280.8,322.1 L1283.7,321.2 L1286.6,320.3 L1289.4,319.4 L1292.3,318.5 L1295.2,317.7 L1298.0,316.8 L1300.9,316.0 L1303.8,315.1 L1306.7,314.3 L1309.5,313.4 L1312.4,312.6 L1315.3,311.8 L1318.2,311.0 L1321.1,310.1 L1324.0,309.3 L1326.8,308.5 L1329.7,307.7 L1332.6,306.9 L1335.5,306.1 L1338.4,305.3 L1341.3,304.5 L1344.2,303.7 L1347.1,302.9 L1350.0,302.1 L1352.8,301.3 L1355.7,300.5 L1358.6,299.7 L1361.5,298.9 L1364.4,298.1 L1367.3,297.3 L1370.2,296.5 L1373.1,295.7 L1376.0,294.9 L1378.9,294.1 L1381.8,293.3 L1384.7,292.6 L1387.6,291.8 L1390.5,291.0 L1393.3,290.2 L1396.2,289.4 L1399.1,288.7 L1402.0,287.9 L1404.9,287.2 L1407.8,286.4 L1410.7,285.7 L1413.7,284.9 L1416.6,284.2 L1419.5,283.5 L1422.4,282.8 L1425.3,282.1 L1428.2,281.4 L1431.1,280.7 L1434.0,280.0 L1436.9,279.3 L1439.8,278.6 L1442.8,278.0 L1445.7,277.3 L1448.6,276.6 L1451.5,276.0 L1454.4,275.3 L1457.3,274.7 L1460.2,274.1 L1463.1,273.4 L1466.0,272.8 L1468.9,272.2 L1471.8,271.5 L1474.6,270.9 L1477.5,270.3 L1480.3,269.7 L1483.2,269.1 L1486.0,268.4 L1488.8,267.8 L1491.6,267.2 L1494.4,266.6 L1497.1,266.0 L1499.9,265.4 L1502.6,264.8 L1505.3,264.3 L1508.0,263.7 L1510.7,263.1 L1513.3,262.5 L1516.0,261.9 L1518.6,261.4 L1521.2,260.8 L1523.8,260.3 L1526.5,259.7 L1529.1,259.2 L1531.7,258.6 L1534.3,258.1 L1536.9,257.6 L1539.5,257.0 L1542.1,256.5 L1544.7,256.0 L1547.4,255.5 L1550.0,255.0 L1552.7,254.5 L1555.3,254.0 L1558.0,253.5 L1560.7,253.0 L1563.5,252.5 L1566.2,252.1 L1569.0,251.6 L1571.7,251.2 L1574.5,250.7 L1577.3,250.3 L1580.1,249.8 L1582.9,249.4 L1585.7,249.0 L1588.5,248.5 L1591.2,248.1 L1594.0,247.7 L1596.8,247.3 L1599.5,246.9 L1602.3,246.6 L1605.0,246.2 L1607.6,245.8 L1610.3,245.4 L1612.9,245.1 L1615.5,244.7 L1618.0,244.4 L1620.5,244.1 L1623.0,243.7 L1625.4,243.4 L1627.8,243.1 L1630.2,242.8 L1632.5,242.5 L1634.7,242.2 L1636.9,241.9 L1639.1,241.6 L1641.3,241.3 L1643.4,241.0 L1645.5,240.8 L1647.5,240.5 L1649.5,240.2 L1651.5,239.9 L1653.5,239.7 L1655.5,239.4 L1657.5,239.1 L1659.5,238.8 L1661.5,238.5 L1663.5,238.3 L1665.5,238.0 L1667.5,237.7 L1669.6,237.4 L1671.7,237.1 L1673.8,236.8 L1676.0,236.5 L1678.2,236.2 L1680.4,235.9 L1682.7,235.6 L1685.0,235.3 L1687.4,235.0 L1689.8,234.7 L1692.3,234.4 L1694.8,234.0 L1697.4,233.7 L1700.0,233.4 L1702.6,233.1 L1705.3,232.8 L1708.0,232.5 L1710.7,232.2 L1713.5,231.9 L1716.3,231.6 L1719.1,231.3 L1721.9,231.0 L1724.8,230.7 L1727.6,230.4 L1730.5,230.1 L1733.4,229.8 L1736.3,229.5 L1739.2,229.3 L1742.1,229.0 L1745.0,228.7 L1746.0,228.6" stroke="#000000" stroke-width="8.33" fill="none" stroke-linejoin="round" stroke-linecap="square"/></g>
<rect x="251.5" y="63.3" width="5.2" height="1113.8" fill="#616161"/>
<rect x="240" y="1172.1" width="1508.5" height="2.7" fill="#7f7f7f"/>
<rect x="240" y="1174.8" width="1508.5" height="2.3" fill="#3a3a3a"/>
<rect x="240" y="61.9" width="1506.1" height="2.9" fill="#000"/>
<rect x="256.7" y="64.8" width="1486.7" height="2.2" fill="#bdbdbd"/>
<rect x="1743.4" y="61.9" width="2.7" height="1115.1999999999998" fill="#111"/>
<rect x="1746.1" y="61.9" width="2.6" height="1115.1999999999998" fill="#a2a2a2"/>
<g><line x1="269.0" y1="1177.1" x2="269.0" y2="1190.8" stroke="#000" stroke-width="3.2"/><line x1="560.6" y1="1177.1" x2="560.6" y2="1190.8" stroke="#000" stroke-width="3.0"/><line x1="853.3" y1="1177.1" x2="853.3" y2="1190.8" stroke="#000" stroke-width="3.2"/><line x1="1145.9" y1="1177.1" x2="1145.9" y2="1190.8" stroke="#4a4a4a" stroke-width="5.0"/><line x1="1439.0" y1="1177.1" x2="1439.0" y2="1190.8" stroke="#111" stroke-width="3.4"/><line x1="1730.6" y1="1177.1" x2="1730.6" y2="1190.8" stroke="#111" stroke-width="3.4"/><line x1="238.2" y1="1175.10" x2="251.6" y2="1175.10" stroke="#000" stroke-width="3.0"/><line x1="238.2" y1="952.40" x2="251.6" y2="952.40" stroke="#000" stroke-width="3.0"/><line x1="238.2" y1="730.20" x2="251.6" y2="730.20" stroke="#3c3c3c" stroke-width="4.4"/><line x1="238.2" y1="507.70" x2="251.6" y2="507.70" stroke="#000" stroke-width="3.0"/><line x1="238.2" y1="286.20" x2="251.6" y2="286.20" stroke="#000" stroke-width="3.0"/><line x1="238.2" y1="63.35" x2="251.6" y2="63.35" stroke="#000" stroke-width="2.9"/></g>
<g font-family="'Liberation Serif','Times New Roman',Times,serif" font-size="50" fill="#000"><text transform="translate(268.7,1238.8) scale(1,1.045)" text-anchor="middle">0</text><text transform="translate(560.0,1239.3) scale(1,1.045)" text-anchor="middle">2</text><text transform="translate(852.2,1239.3) scale(1,1.045)" text-anchor="middle">4</text><text transform="translate(1144.9,1238.8) scale(1,1.045)" text-anchor="middle">6</text><text transform="translate(1437.9,1238.8) scale(1,1.045)" text-anchor="middle">8</text><text transform="translate(1730.8,1238.8) scale(1,1.045)" text-anchor="middle">10</text><text transform="translate(225.7,1192.7) scale(1,1.045)" text-anchor="end">0</text><text transform="translate(223.1,968.9) scale(1,1.045)" text-anchor="end">600</text><text transform="translate(222.9,748.3) scale(1,1.045)" text-anchor="end">1200</text><text transform="translate(222.9,524.4) scale(1,1.045)" text-anchor="end">1800</text><text transform="translate(222.9,304.2) scale(1,1.045)" text-anchor="end">2400</text><text transform="translate(224.5,81.6) scale(1,1.045)" text-anchor="end">3000</text></g>
<text transform="translate(999.5,1309.8) scale(1,1.035)" text-anchor="middle" font-family="'Liberation Serif','Times New Roman',Times,serif" font-size="64" fill="#000">s (m)</text>
<text transform="translate(93.5,619.6) rotate(-90) scale(1,1.035)" text-anchor="middle" font-family="'Liberation Serif','Times New Roman',Times,serif" font-size="64" fill="#000">V (m/s)</text>
<rect x="292.3" y="101.6" width="404.2" height="272.0" rx="7.0" fill="#4d4d4d" fill-opacity="0.5" stroke="#4d4d4d" stroke-opacity="0.5" stroke-width="4.17"/>
<rect x="284.0" y="93.3" width="404.2" height="272.0" rx="7.0" fill="#ffffff" stroke="#ffffff" stroke-width="4.17"/>
<line x1="308" y1="138.35" x2="428" y2="138.35" stroke="#000000" stroke-width="8.33" stroke-linecap="square"/>
<text transform="translate(476,159.5) scale(1,1.07)" font-family="'Liberation Serif','Times New Roman',Times,serif" font-size="60" fill="#000">30</text>
<text x="536.0" y="159.5" font-family="'Liberation Serif','Times New Roman',Times,serif" font-size="60" fill="#000" xml:space="preserve"> MPa</text>
<line x1="308" y1="223.4" x2="428" y2="223.4" stroke="#ff0000" stroke-width="8.33" stroke-dasharray="53.33,13.33,8.33,13.33" stroke-linecap="butt"/>
<text transform="translate(476,244.6) scale(1,1.07)" font-family="'Liberation Serif','Times New Roman',Times,serif" font-size="60" fill="#000">45</text>
<text x="536.0" y="244.6" font-family="'Liberation Serif','Times New Roman',Times,serif" font-size="60" fill="#000" xml:space="preserve"> MPa</text>
<line x1="308" y1="308.4" x2="428" y2="308.4" stroke="#0000cc" stroke-width="8.33" stroke-dasharray="30.83,13.33" stroke-linecap="butt"/>
<text transform="translate(476,329.8) scale(1,1.07)" font-family="'Liberation Serif','Times New Roman',Times,serif" font-size="60" fill="#000">75</text>
<text x="536.0" y="329.8" font-family="'Liberation Serif','Times New Roman',Times,serif" font-size="60" fill="#000" xml:space="preserve"> MPa</text>
</svg>
</body></html>
